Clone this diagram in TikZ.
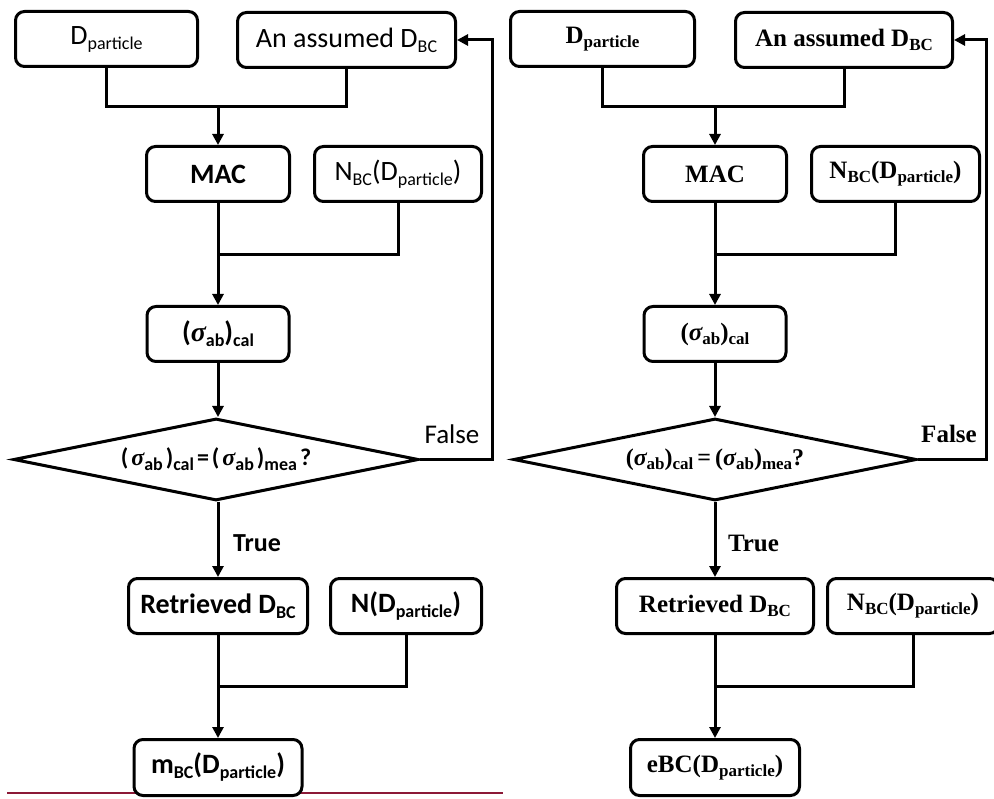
\documentclass[tikz,border=0pt]{standalone}
\usepackage{fontspec}
\setmainfont{Carlito}
\newfontfamily\tnr{Liberation Serif}
\usetikzlibrary{arrows.meta,shapes.geometric}
\newcommand\sbL[1]{\raisebox{-5pt}{\fontsize{18}{18}\selectfont #1}}
\newcommand\sbR[1]{\raisebox{-4pt}{\fontsize{17}{17}\selectfont #1}}
\newcommand\sigL{{\tnr\itshape σ}}
\newcommand\sigR{{\tnr\bfseries\itshape σ}}
\newcommand\gp{\hspace{3pt}}
\definecolor{rline}{RGB}{140,25,55}
\begin{document}
\begin{tikzpicture}[x=1pt,y=-1pt,
  lb/.style={draw, line width=3pt, rounded corners=9pt, fill=white, inner sep=0pt,
    minimum height=55pt, font=\fontsize{28}{30}\selectfont},
  lbb/.style={lb, font=\bfseries\fontsize{28}{30}\selectfont},
  rb/.style={lb, font=\tnr\bfseries\fontsize{25}{28}\selectfont},
  conn/.style={line width=3pt},
  arr/.style={conn, -{Triangle[length=11pt,width=11pt]}},
  dia/.style={draw, diamond, line width=3pt, fill=white, inner sep=0pt, minimum height=82pt},
  lab/.style={inner sep=0pt}]
\useasboundingbox (0,0) rectangle (994,799);
\fill[white] (0,0) rectangle (994,799);
\draw[rline, line width=1.2pt] (7,793) -- (503,793);

% ---------------- left panel ----------------
\node[lb, minimum width=182pt] (LDp) at (106.5,39) {D\sbL{particle}};
\node[lb, minimum width=218pt] (LAs) at (346.5,40) {An assumed D\sbL{BC}};
\node[lbb, minimum width=143pt] (LMAC) at (218,174) {MAC};
\node[lb, minimum width=167pt] (LNBC) at (398,174) {N\sbL{BC}(D\sbL{particle})};
\node[lbb, minimum width=142pt] (LSig) at (218,334) {(\sigL\sbL{ab})\sbL{cal}};
\node[dia, minimum width=405pt, shape aspect=4.94, font=\bfseries\fontsize{24}{28}\selectfont] (LD) at (216,459.5)
  {(\gp\sigL\sbL{ab}\gp)\sbL{cal}\gp=\gp(\gp\sigL\sbL{ab}\gp)\sbL{mea}\gp?};
\node[lbb, minimum width=179pt] (LRet) at (218,606) {Retrieved D\sbL{BC}};
\node[lbb, minimum width=151pt] (LN) at (406,606) {N(D\sbL{particle})};
\node[lbb, minimum width=168pt, minimum height=56pt] (LM) at (218,767.5) {m\sbL{BC}(D\sbL{particle})};
\node[lab, font=\fontsize{27}{30}\selectfont] (LF) at (452,434) {False};
\node[lab, font=\bfseries\fontsize{26}{30}\selectfont] (LT) at (257,543) {True};

\coordinate (Lm1) at (218,107);
\coordinate (Lm2) at (218,255);
\coordinate (Lm3) at (218,686);
\coordinate (Lf) at (492,459.5);
\draw[conn] (LDp.south) |- (Lm1) -| (LAs.south);
\draw[arr] (Lm1) -- (LMAC.north);
\draw[arr] (LMAC.south) -- (LSig.north);
\draw[conn] (LNBC.south) |- (Lm2);
\draw[arr] (LSig.south) -- (LSig.south |- LD.north);
\draw[arr] (LD.east) -- (Lf) |- (LAs.east);
\draw[arr] (LRet.north |- LD.south) -- (LRet.north);
\draw[arr] (LRet.south) -- (LM.north);
\draw[conn] (LN.south) |- (Lm3);

% ---------------- right panel ----------------
\node[rb, minimum width=184pt] (RDp) at (602.5,39) {D\sbR{particle}};
\node[rb, minimum width=217pt] (RAs) at (844,40) {An assumed D\sbR{BC}};
\node[rb, minimum width=143pt] (RMAC) at (715,174) {MAC};
\node[rb, minimum width=168pt] (RNBC) at (895.5,174) {N\sbR{BC}(D\sbR{particle})};
\node[rb, minimum width=142pt] (RSig) at (715,334) {(\sigR\sbR{ab})\sbR{cal}};
\node[dia, minimum width=403pt, shape aspect=4.9, font=\tnr\bfseries\fontsize{24}{28}\selectfont] (RD) at (715,459.5)
  {(\sigR\sbR{ab})\sbR{cal}\,=\,(\sigR\sbR{ab})\sbR{mea}?};
\node[rb, minimum width=197pt] (RRet) at (715,606) {Retrieved D\sbR{BC}};
\node[rb, minimum width=171pt] (RN) at (913,606) {N\sbR{BC}(D\sbR{particle})};
\node[rb, minimum width=169pt, minimum height=56pt] (RM) at (715,767.5) {eBC(D\sbR{particle})};
\node[lab, font=\tnr\bfseries\fontsize{25}{28}\selectfont] (RF) at (949,434) {False};
\node[lab, font=\tnr\bfseries\fontsize{25}{28}\selectfont] (RT) at (753.5,543) {True};

\coordinate (Rm1) at (715,107);
\coordinate (Rm2) at (715,255);
\coordinate (Rm3) at (715,686);
\coordinate (Rf) at (986,459.5);
\draw[conn] (RDp.south) |- (Rm1) -| (RAs.south);
\draw[arr] (Rm1) -- (RMAC.north);
\draw[arr] (RMAC.south) -- (RSig.north);
\draw[conn] (RNBC.south) |- (Rm2);
\draw[arr] (RSig.south) -- (RD.north);
\draw[arr] (RD.east) -- (Rf) |- (RAs.east);
\draw[arr] (RD.south) -- (RRet.north);
\draw[arr] (RRet.south) -- (RM.north);
\draw[conn] (RN.south) |- (Rm3);
\end{tikzpicture}
\end{document}
